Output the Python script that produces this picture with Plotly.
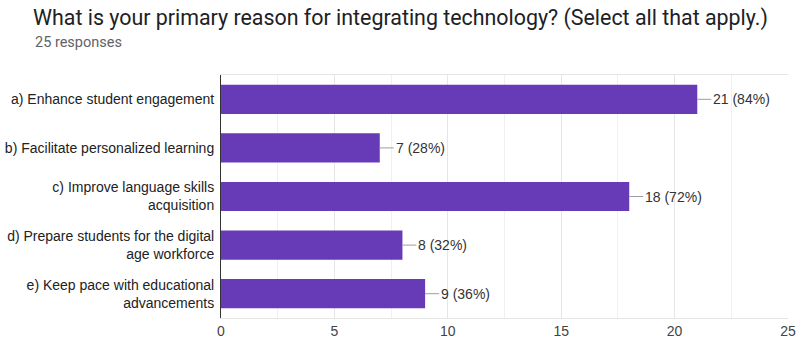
import plotly.graph_objects as go

categories = [
    "a) Enhance student engagement",
    "b) Facilitate personalized learning",
    "c) Improve language skills<br>acquisition",
    "d) Prepare students for the digital<br>age workforce",
    "e) Keep pace with educational<br>advancements",
]
counts = [21, 7, 18, 8, 9]
total_responses = 25
x_ticks = [0, 5, 10, 15, 20, 25]

W, H = 797, 342
L, R, T, B = 221, 9, 75, 24
plot_w = W - L - R
plot_h = H - T - B
LABEL_FONT = "Liberation Sans, Arial, sans-serif"

fig = go.Figure(go.Bar(
    x=counts,
    y=categories,
    orientation="h",
    marker=dict(color="#673ab7", line=dict(width=0)),
    width=0.6,
    hoverinfo="skip",
))

# value labels with a short leader line
for c, v in zip(categories, counts):
    fig.add_annotation(
        x=v, y=c, xref="x", yref="y",
        text=f"{v} ({round(v / total_responses * 100)}%)",
        showarrow=True, arrowhead=0, arrowwidth=1, arrowcolor="#9e9e9e",
        ax=14, ay=0, xanchor="left", yanchor="middle",
        font=dict(family=LABEL_FONT, size=14, color="#333333"),
    )

fig.add_annotation(
    xref="paper", yref="paper",
    x=(33 - L) / plot_w, y=(H - B - 42) / plot_h,
    text=f"{total_responses} responses", showarrow=False,
    xanchor="left", yanchor="middle",
    font=dict(family="Roboto", size=14.5, color="#5f6368"),
)

fig.update_layout(
    width=W, height=H,
    margin=dict(l=L, r=R, t=T, b=B, pad=0, autoexpand=False),
    paper_bgcolor="white", plot_bgcolor="white",
    showlegend=False,
    title=dict(
        text="What is your primary reason for integrating technology? (Select all that apply.)",
        xref="container", yref="container",
        x=33 / W, y=1 - 18 / H, xanchor="left", yanchor="middle",
        font=dict(family="Roboto", size=21.4, color="#202124"),
    ),
    bargap=0.4,
)

fig.update_xaxes(
    range=[0, 25], tickvals=x_ticks, ticktext=[str(t) for t in x_ticks],
    showgrid=True, gridcolor="#e6e6e6", gridwidth=1,
    minor=dict(dtick=2.5, showgrid=True, gridcolor="#f0f0f0", gridwidth=1),
    showline=True, linecolor="#e6e6e6", linewidth=1, mirror=True,
    zeroline=False, ticks="", ticklabelstandoff=0,
    tickfont=dict(family=LABEL_FONT, size=14, color="#444444"),
    automargin=False, fixedrange=True,
)
fig.update_yaxes(
    autorange="reversed",
    showline=True, linecolor="#333333", linewidth=1,
    showgrid=False, ticks="", ticklabelstandoff=3,
    tickfont=dict(family=LABEL_FONT, size=14, color="#222222"),
    automargin=False, fixedrange=True,
)

fig.write_html("out.html", config=dict(displayModeBar=False))
